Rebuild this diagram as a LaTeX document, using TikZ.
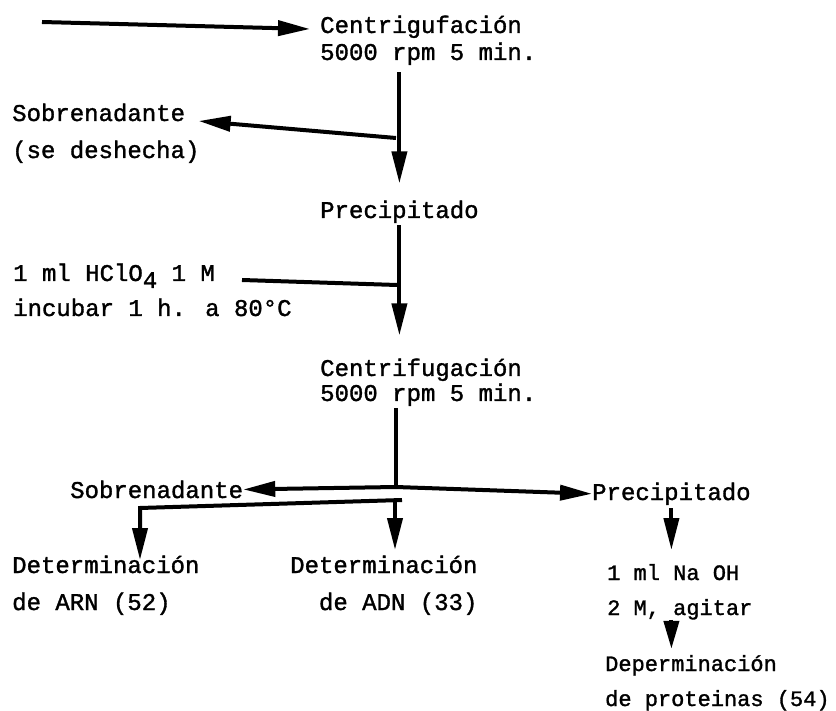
\documentclass[tikz,border=0pt]{standalone}
\usepackage{fontspec}
\usepackage{tikz}
\usetikzlibrary{arrows.meta, calc}
\newfontfamily\typewr[FakeBold=1.4]{Liberation Mono}

\begin{document}
\begin{tikzpicture}[x=1pt, y=-1pt,
    lbl/.style={anchor=base west, inner sep=0pt, align=left,
                font=\typewr\fontsize{24}{37}\selectfont},
    flow/.style={line width=4pt, -{Triangle[length=32pt, width=15pt]}},
    link/.style={line width=4pt}]
  \useasboundingbox (0,0) rectangle (836,711);

  % textos
  \node[lbl, font=\typewr\fontsize{24}{27}\selectfont] (cent1) at (320,60) {Centrigufación\\5000 rpm 5 min.};
  \node[lbl] (sob1) at (12,158) {Sobrenadante\\(se deshecha)};
  \node[lbl] (prec1) at (320,218) {Precipitado};
  \node[lbl, font=\typewr\fontsize{24}{35}\selectfont] (reag) at (13,316)
        {1 ml HClO\raisebox{-7pt}{4} 1 M\\incubar 1 h. a 80°C};
  \node[lbl, font=\typewr\fontsize{24}{25}\selectfont] (cent2) at (320,401) {Centrifugación\\5000 rpm 5 min.};
  \node[lbl] (sob2) at (70,498) {Sobrenadante};
  \node[lbl] (prec2) at (592,500) {Precipitado};
  \node[lbl] (arn) at (12,610) {Determinación\\de ARN (52)};
  \node[lbl] (adn) at (290,610) {Determinación\\\hspace*{28.8pt}de ADN (33)};
  \node[lbl, font=\typewr\fontsize{22}{35}\selectfont] (naoh) at (607,615) {1 ml Na OH\\2 M, agitar};
  \node[lbl, font=\typewr\fontsize{22}{35}\selectfont] (prot) at (605,706) {Deperminación\\de proteinas (54)};

  % flechas
  \coordinate (feed) at (42,22);
  \draw[flow] (feed) -- ([shift={(-10pt,31pt)}]cent1.base west);
  \draw[flow, shorten <=7pt, shorten >=17pt] (cent1.south -| prec1.north) -- (prec1.north);
  \coordinate (jsob) at (396,138);
  \draw[flow] (jsob) -- ([shift={(-1pt,37pt)}]sob1.base east);

  \coordinate (reag0) at (242,280);
  \coordinate (jreag) at (397,285);
  \draw[link] (reag0) -- (jreag);
  \draw[flow, shorten <=2pt, shorten >=23pt] (prec1.south) -- (prec1.south |- cent2.north);

  \coordinate (split) at (396,487);
  \draw[link, shorten <=2pt] (cent2.south -| split) -- (split);
  \draw[flow] (split) -- (sob2.east);
  \draw[flow] (split) -- (prec2.west);

  \coordinate (jmid) at (402,500);
  \coordinate (jleft) at (140,508);
  \draw[flow] (jmid) -- (jleft) -- ($(jleft |- arn.base)+(0,-50)$);
  \coordinate (jadn) at (395,500);
  \draw[flow] (jadn) -- ($(jadn |- adn.base)+(0,-60)$);

  \draw[flow, shorten <=3pt] (prec2.south) -- ($(prec2.south |- naoh.base)+(0,-65)$);
  \draw[flow, -{Triangle[length=28pt, width=15pt]}, shorten >=6pt] (prec2.south |- naoh.south) -- (prec2.south |- prot.north);
\end{tikzpicture}
\end{document}
